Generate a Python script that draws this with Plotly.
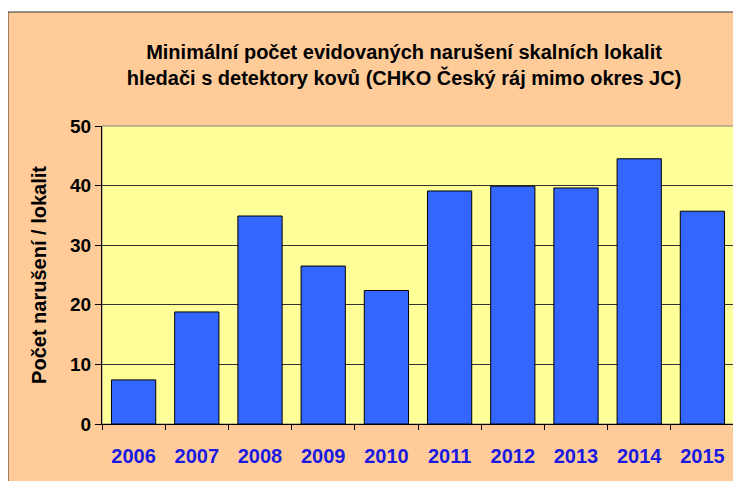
import plotly.graph_objects as go

years = ["2006", "2007", "2008", "2009", "2010", "2011", "2012", "2013", "2014", "2015"]
counts = [7.4, 18.8, 34.9, 26.5, 22.4, 39.1, 39.9, 39.6, 44.5, 35.7]
y_ticks = [0, 10, 20, 30, 40, 50]

title_text = ("Minimální počet evidovaných narušení skalních lokalit<br>"
              "hledači s detektory kovů (CHKO Český ráj mimo okres JC)")
y_title = "Počet narušení / lokalit"

fig = go.Figure(go.Bar(
    x=years, y=counts,
    marker=dict(color="#3366FF", line=dict(color="black", width=1)),
))

# page body has an 8px margin, so the figure is 733x473 and offset by 8px
W, H = 733, 473
L, T = 94, 118
R = W - 726
B = H - 416
pw, ph = W - L - R, H - T - B

fig.update_layout(
    width=W, height=H,
    margin=dict(l=L, r=R, t=T, b=B),
    paper_bgcolor="white",
    plot_bgcolor="rgba(0,0,0,0)",
    bargap=0.3,
    showlegend=False,
    title=dict(text=title_text, x=396 / W, xanchor="center", y=1 - 51 / H, yanchor="middle",
               font=dict(family="Liberation Sans", size=20, color="black", weight="bold")),
    font=dict(family="Liberation Sans", color="black"),
    shapes=[
        dict(type="rect", xref="paper", yref="paper", layer="below",
             x0=(0 - L) / pw, x1=(W + 10 - L) / pw,
             y0=(H - B - (H + 10)) / ph, y1=(H - B - 4) / ph,
             fillcolor="#FFCC99", line=dict(color="#333333", width=1)),
        dict(type="rect", xref="paper", yref="paper", layer="below",
             x0=0, x1=1, y0=0, y1=1,
             fillcolor="#FFFF99", line=dict(color="#808080", width=1)),
    ],
)

fig.update_xaxes(
    type="category", tickson="boundaries", ticks="outside", ticklen=5, tickcolor="black",
    showline=True, linecolor="black", linewidth=1, showgrid=False,
    ticklabelstandoff=14,
    tickfont=dict(family="Liberation Sans", size=20, color="#1A1AE0", weight="bold"),
)
fig.update_yaxes(
    range=[0, 50], tickvals=y_ticks, ticks="outside", ticklen=6, tickcolor="black",
    showline=True, linecolor="black", linewidth=1,
    showgrid=True, gridcolor="#333333", gridwidth=1, zeroline=False,
    tickfont=dict(family="Liberation Sans", size=19, color="black", weight="bold"),
    title=dict(text=y_title, standoff=18,
               font=dict(family="Liberation Sans", size=20, color="black", weight="bold")),
)

fig.write_html("out.html")
